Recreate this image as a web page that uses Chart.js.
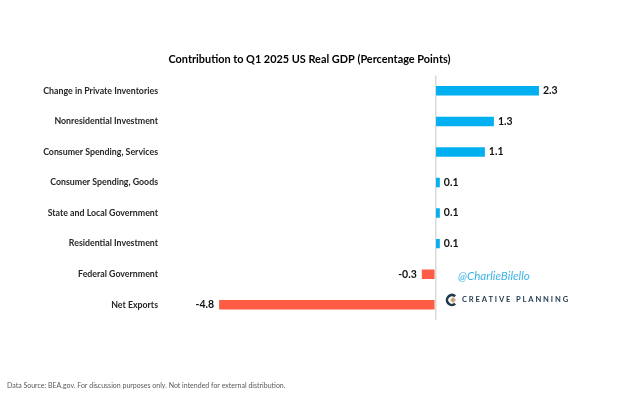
<!DOCTYPE html>
<html>
<head>
<meta charset="utf-8">
<script src="https://cdn.jsdelivr.net/npm/chart.js@4.4.1/dist/chart.umd.min.js"></script>
<style>
  html, body { margin: 0; padding: 0; background: #ffffff; }
  #wrap { width: 623px; height: 393px; position: relative; }
</style>
</head>
<body>
<div id="wrap"><canvas id="c" width="623" height="393"></canvas></div>
<script>
const chartTitle = 'Contribution to Q1 2025 US Real GDP (Percentage Points)';
const categories = [
  'Change in Private Inventories',
  'Nonresidential Investment',
  'Consumer Spending, Services',
  'Consumer Spending, Goods',
  'State and Local Government',
  'Residential Investment',
  'Federal Government',
  'Net Exports'
];
const values = [2.3, 1.3, 1.1, 0.1, 0.1, 0.1, -0.3, -4.8];
const footnote = 'Data Source: BEA.gov. For discussion purposes only. Not intended for external distribution.';
const handle = '@CharlieBilello';
const brand = 'CREATIVE PLANNING';

const FONT = 'Lato, "Open Sans", sans-serif';
const POS = '#00B0F0';
const NEG = '#FF5C45';

const labelPlugin = {
  id: 'valueLabels',
  afterDatasetsDraw(chart) {
    const ctx = chart.ctx;
    const meta = chart.getDatasetMeta(0);
    ctx.save();
    ctx.font = 'bold 10.5px ' + FONT;
    ctx.fillStyle = '#111111';
    ctx.textBaseline = 'middle';
    meta.data.forEach((bar, i) => {
      const v = values[i];
      const txt = v.toFixed(1);
      if (v >= 0) {
        ctx.textAlign = 'left';
        ctx.fillText(txt, bar.x + 4, bar.y);
      } else {
        ctx.textAlign = 'right';
        ctx.fillText(txt, bar.x - 5, bar.y);
      }
    });
    ctx.restore();
  }
};

const decoPlugin = {
  id: 'deco',
  afterDraw(chart) {
    const ctx = chart.ctx;
    ctx.save();
    // footnote
    ctx.font = '7px ' + FONT;
    ctx.fillStyle = '#595959';
    ctx.textAlign = 'left';
    ctx.textBaseline = 'middle';
    ctx.fillText(footnote, 7, 386);
    // handle
    ctx.font = 'italic 11.6px ' + FONT;
    ctx.fillStyle = '#3CB4E6';
    ctx.fillText(handle, 458, 276);
    // logo icon
    ctx.strokeStyle = '#1E3A4C';
    ctx.lineWidth = 2.6;
    ctx.beginPath();
    ctx.arc(452, 300, 5, Math.PI * 0.28, Math.PI * 1.72);
    ctx.stroke();
    ctx.fillStyle = '#C9A57A';
    ctx.beginPath();
    ctx.moveTo(453, 297); ctx.lineTo(456, 300); ctx.lineTo(453, 303); ctx.lineTo(450, 300);
    ctx.closePath();
    ctx.fill();
    // brand text
    ctx.font = 'bold 7.6px ' + FONT;
    ctx.fillStyle = '#1E3A4C';
    ctx.letterSpacing = '1.85px';
    ctx.fillText(brand, 462, 300);
    ctx.restore();
  }
};

new Chart(document.getElementById('c'), {
  type: 'bar',
  data: {
    labels: categories,
    datasets: [{
      data: values,
      backgroundColor: values.map(v => v >= 0 ? POS : NEG),
      borderWidth: 0,
      barPercentage: 0.31,
      categoryPercentage: 1.0
    }]
  },
  options: {
    indexAxis: 'y',
    responsive: false,
    animation: false,
    devicePixelRatio: 1,
    layout: { padding: { left: 17, right: 21, top: 0, bottom: 73 } },
    plugins: {
      legend: { display: false },
      tooltip: { enabled: false },
      title: {
        display: true,
        text: chartTitle,
        color: '#000000',
        font: { family: FONT, size: 10.9, weight: 'bold' },
        padding: { top: 53, bottom: 9.5 }
      }
    },
    scales: {
      x: {
        min: -6,
        max: 3.7,
        ticks: { display: false, stepSize: 1 },
        border: { display: false },
        grid: {
          drawTicks: false,
          lineWidth: 1.5,
          color: (c) => (c.tick && c.tick.value === 0) ? '#D9D9D9' : 'rgba(0,0,0,0)'
        }
      },
      y: {
        afterFit(scale) { scale.width = 148; },
        grid: { display: false, drawTicks: false },
        border: { display: false },
        ticks: {
          padding: 7,
          color: '#262626',
          font: { family: FONT, size: 8.8, weight: 'bold' }
        }
      }
    }
  },
  plugins: [labelPlugin, decoPlugin]
});
</script>
</body>
</html>
